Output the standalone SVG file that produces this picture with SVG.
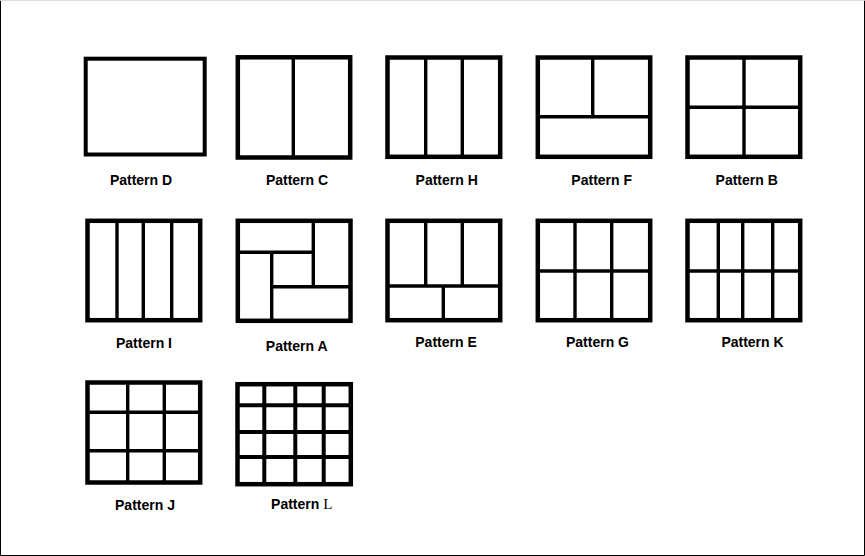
<svg xmlns="http://www.w3.org/2000/svg" width="865" height="556" viewBox="0 0 865 556">
<style>
.box{fill:none;stroke:#000;stroke-width:4.5}
.div{fill:none;stroke:#000;stroke-width:3.4}
.div4{fill:none;stroke:#000;stroke-width:4}
.lbl{font-family:"Liberation Sans",Arial,sans-serif;font-weight:bold;font-size:14px;fill:#000;text-anchor:middle}
</style>
<rect x="0" y="0" width="865" height="556" fill="#fff"/>
<path d="M0.5,0.5V555.5H864.5V0.5" fill="none" stroke="#000" stroke-width="1"/>
<path d="M0.5,0.5H864.5" fill="none" stroke="#ddd" stroke-width="1"/>

<g id="patternD">
<rect class="box" x="85.7" y="58.7" width="119" height="95.8" style="stroke-width:4"/>
<text class="lbl" x="141" y="184.5">Pattern D</text>
</g>
<g id="patternC">
<rect class="box" x="237.8" y="57.3" width="112.4" height="100.2"/>
<path class="div" d="M293.3,57.3V157.5"/>
<text class="lbl" x="297" y="184.5">Pattern C</text>
</g>
<g id="patternH">
<rect class="box" x="387.5" y="57.5" width="112.7" height="99.3"/>
<path class="div" d="M425.7,57.5V156.8M462.3,57.5V156.8"/>
<text class="lbl" x="446.7" y="185">Pattern H</text>
</g>
<g id="patternF">
<rect class="box" x="537.8" y="57.5" width="112.4" height="99.3"/>
<path class="div" d="M537.8,116.7H650.2M592.7,57.5V116.7"/>
<text class="lbl" x="601.7" y="185">Pattern F</text>
</g>
<g id="patternB">
<rect class="box" x="687.5" y="57.5" width="112.7" height="99.3"/>
<path class="div" d="M687.5,107.3H800.2M744,57.5V156.8"/>
<text class="lbl" x="746.7" y="185">Pattern B</text>
</g>

<g id="patternI">
<rect class="box" x="87.5" y="220.8" width="112.7" height="99.4"/>
<path class="div" d="M117,220.8V320.2M143.3,220.8V320.2M171.7,220.8V320.2"/>
<text class="lbl" x="144" y="347.5">Pattern I</text>
</g>
<g id="patternA">
<rect class="box" x="237.8" y="220.8" width="112.7" height="100"/>
<path class="div" d="M237.8,252.3H313.3M313.3,220.8V286.7M271.7,286.7H350.5M271.7,252.3V320.8"/>
<text class="lbl" x="296.7" y="350.5">Pattern A</text>
</g>
<g id="patternE">
<rect class="box" x="387.5" y="220.8" width="112.7" height="99.4"/>
<path class="div" d="M425.7,220.8V286M462.3,220.8V286M387.5,286H500.2M443.3,286V320.2"/>
<text class="lbl" x="446" y="347">Pattern E</text>
</g>
<g id="patternG">
<rect class="box" x="537.8" y="220.8" width="112.4" height="99.4"/>
<path class="div" d="M537.8,271H650.2M575,220.8V320.2M611.7,220.8V320.2"/>
<text class="lbl" x="597.5" y="347">Pattern G</text>
</g>
<g id="patternK">
<rect class="box" x="687.5" y="220.8" width="112.7" height="99.4"/>
<path class="div" d="M687.5,271H800.2M718.3,220.8V320.2M742.7,220.8V320.2M772.7,220.8V320.2"/>
<text class="lbl" x="752.5" y="347">Pattern K</text>
</g>

<g id="patternJ">
<rect class="box" x="87.5" y="382.5" width="112.7" height="100"/>
<path class="div" d="M127.7,382.5V482.5M164.3,382.5V482.5M87.5,412.3H200.2M87.5,450.7H200.2"/>
<text class="lbl" x="145" y="509.5">Pattern J</text>
</g>
<g id="patternL">
<rect class="box" x="237.5" y="384.2" width="113.3" height="100"/>
<path class="div4" d="M264.3,384.2V484.2M295.3,384.2V484.2M323.7,384.2V484.2M237.5,405.3H350.8M237.5,432H350.8M237.5,457H350.8"/>
<text class="lbl" x="301.7" y="508.5">Pattern <tspan style="font-family:'Liberation Serif','Times New Roman',serif;font-weight:normal;font-size:15px">L</tspan></text>
</g>
</svg>
